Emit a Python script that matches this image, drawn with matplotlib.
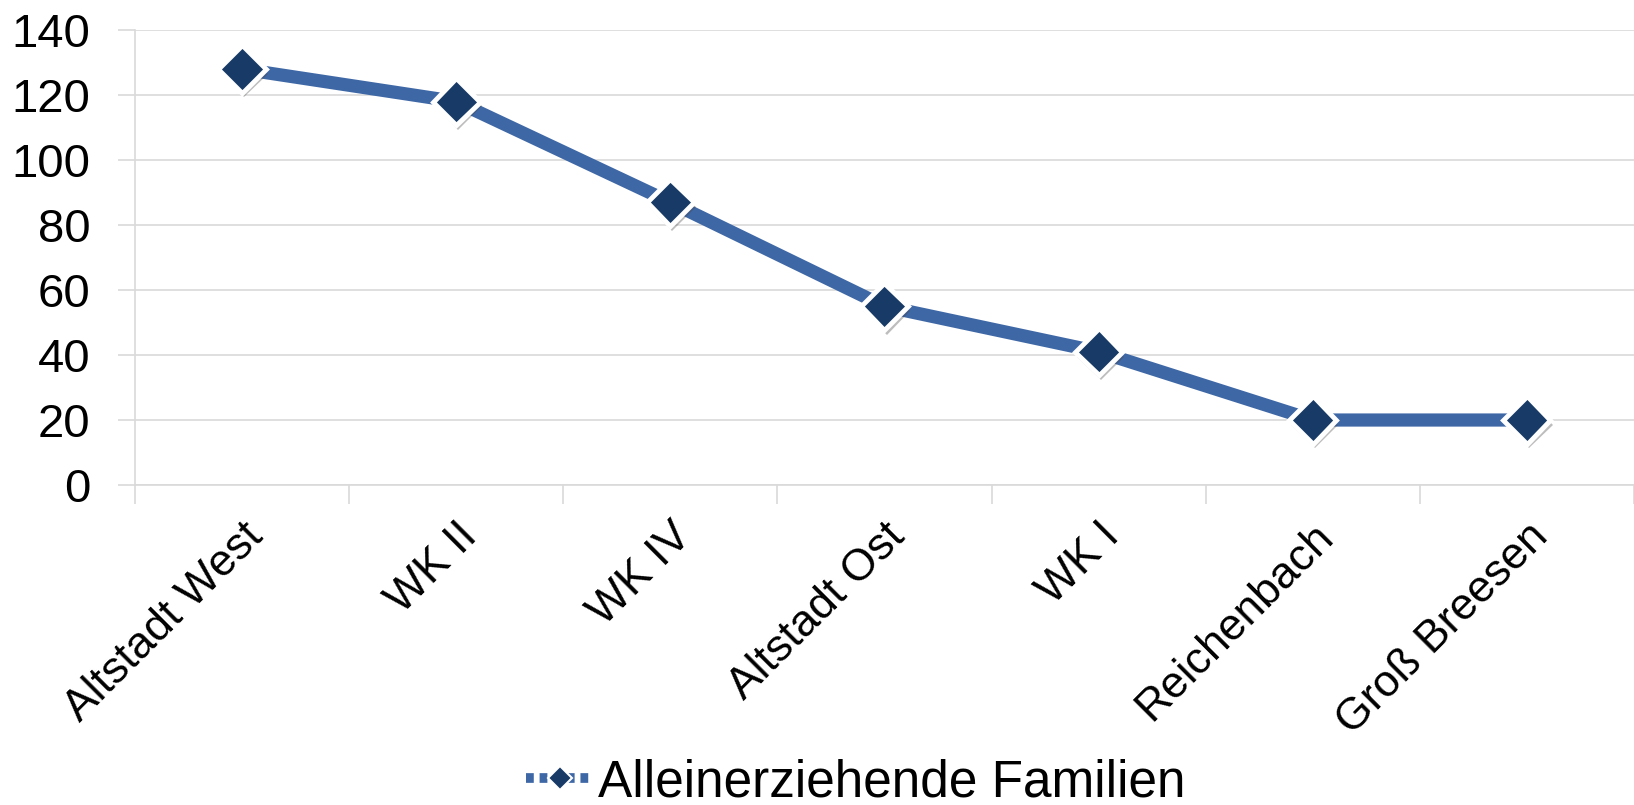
import numpy as np
import matplotlib.pyplot as plt
import matplotlib.patheffects as pe

# Chart data
districts = ["Altstadt West", "WK II", "WK IV", "Altstadt Ost", "WK I", "Reichenbach", "Groß Breesen"]
families = [128, 118, 87, 55, 41, 20, 20]
y_ticks = [0, 20, 40, 60, 80, 100, 120, 140]
series_label = "Alleinerziehende Familien"

LINE_COLOR = "#3E67A6"
MARKER_COLOR = "#173A66"
GRID_COLOR = "#D9D9D9"

plt.rcParams["font.family"] = ["Liberation Sans", "DejaVu Sans"]

fig = plt.figure(figsize=(16.34, 8.05), dpi=100)
ax = fig.add_axes([0.0826, 0.3975, 0.9174, 0.5652])

x = np.arange(len(districts))
ax.plot(x, families, color=LINE_COLOR, linewidth=9.5, solid_capstyle="round", zorder=3)
ax.plot(
    x,
    families,
    linestyle="none",
    marker="D",
    markersize=24,
    markerfacecolor=MARKER_COLOR,
    markeredgecolor="white",
    markeredgewidth=3.5,
    zorder=4,
    path_effects=[pe.SimplePatchShadow(offset=(1.5, -3.5), shadow_rgbFace="#444444", alpha=0.35), pe.Normal()],
)

# legend proxy
(proxy,) = ax.plot([], [], color=LINE_COLOR, linewidth=7, linestyle=(0, (0.8, 0.6)),
                   marker="D", markersize=12, markerfacecolor=MARKER_COLOR,
                   markeredgecolor="white", markeredgewidth=1.5, label=series_label)

ax.set_xlim(-0.5, 6.44)
ax.set_ylim(0, 140)
ax.set_yticks(y_ticks)
ax.set_xticks(x)
ax.set_xticklabels(districts, rotation=45, ha="right", rotation_mode="anchor", fontsize=32)
ax.set_xticks(np.arange(-0.5, len(districts)), minor=True)

ax.tick_params(axis="y", labelsize=34, length=12, color=GRID_COLOR, width=1.2, pad=20)
ax.tick_params(axis="x", which="major", length=0, pad=22)
ax.tick_params(axis="x", which="minor", length=14, color=GRID_COLOR, width=1.2)

ax.grid(axis="y", color=GRID_COLOR, linewidth=1.2)
ax.set_axisbelow(True)
for side in ["top", "right"]:
    ax.spines[side].set_visible(False)
ax.spines["left"].set_color(GRID_COLOR)
ax.spines["bottom"].set_color(GRID_COLOR)
ax.spines["left"].set_linewidth(1.2)
ax.spines["bottom"].set_linewidth(1.2)

fig.legend(handles=[proxy], loc="lower center", bbox_to_anchor=(0.524, -0.06), frameon=False,
           fontsize=37, handlelength=1.3, handletextpad=0.1)

fig.savefig("out.png", dpi=100)
